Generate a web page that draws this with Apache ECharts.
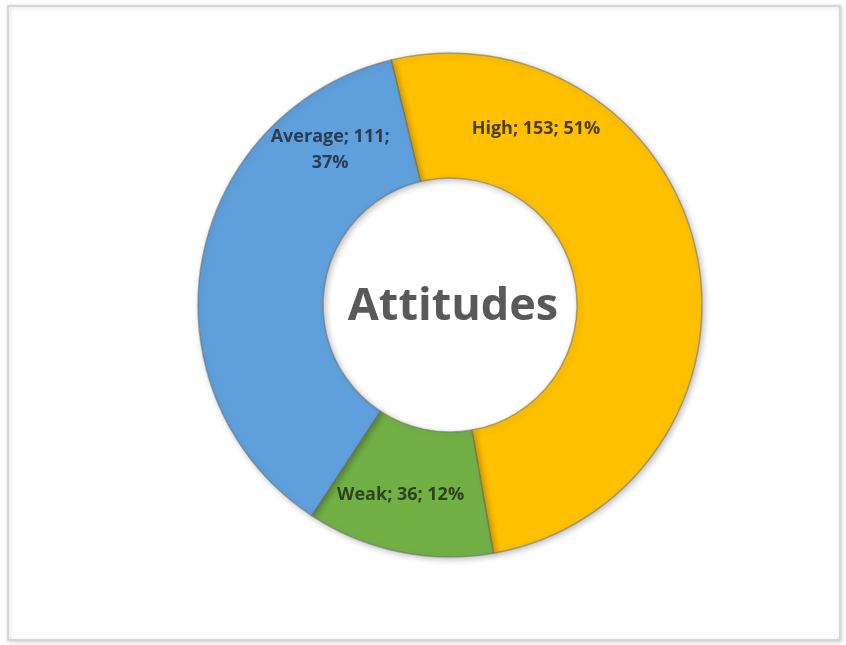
<!DOCTYPE html>
<html>
<head>
<meta charset="utf-8">
<script src="https://cdn.jsdelivr.net/npm/echarts@6/dist/echarts.min.js"></script>
<style>
html,body{margin:0;padding:0;background:#fff;}
#main{width:846px;height:645px;}
</style>
</head>
<body>
<div id="main"></div>
<script>
const categories = ['High', 'Weak', 'Average'];
const values = [153, 36, 111];
const colors = ['#FFC000', '#72B046', '#5FA0DC'];
const labelColors = ['#4a3d05', '#2c4220', '#2a3b52'];
const centerTitle = 'Attitudes';

// label anchor angles (degrees, math convention) for placement
const labelAngles = { High: 64, Weak: -104.6, Average: 127.7 };
const cx = 450, cy = 305, labelR = 196;

const chart = echarts.init(document.getElementById('main'));
chart.setOption({
  backgroundColor: '#ffffff',
  animation: false,
  graphic: [
    {
      type: 'rect',
      shape: { x: 8, y: 6, width: 832, height: 634 },
      style: { fill: '#ffffff', stroke: '#d6d6d6', lineWidth: 2,
               shadowBlur: 4, shadowColor: 'rgba(0,0,0,0.15)', shadowOffsetX: 1, shadowOffsetY: 1 },
      z: -10
    },
    {
      type: 'text',
      x: cx + 3,
      y: cy + 2,
      style: {
        text: centerTitle,
        textAlign: 'center', textVerticalAlign: 'middle',
        font: 'bold 45px "Open Sans", sans-serif',
        fill: '#595959'
      },
      z: 10
    }
  ],
  series: [{
    type: 'pie',
    center: [cx, cy],
    radius: [127, 252],
    startAngle: 103.5,
    clockwise: true,
    avoidLabelOverlap: false,
    itemStyle: {
      borderColor: 'rgba(110,110,110,0.55)',
      borderWidth: 1.5,
      shadowBlur: 6,
      shadowColor: 'rgba(0,0,0,0.25)',
      shadowOffsetX: 2,
      shadowOffsetY: 2
    },
    label: {
      show: true,
      position: 'inside',
      formatter: function (p) {
        if (p.name === 'Average') return p.name + '; ' + p.value + ';\n' + Math.round(p.percent) + '%';
        return p.name + '; ' + p.value + '; ' + Math.round(p.percent) + '%';
      },
      fontFamily: '"Open Sans", sans-serif',
      fontWeight: 'bold',
      fontSize: 18,
      lineHeight: 26,
      align: 'center'
    },
    labelLine: { show: false },
    labelLayout: function (params) {
      const name = categories[params.dataIndex];
      const a = labelAngles[name] * Math.PI / 180;
      return {
        x: cx + labelR * Math.cos(a),
        y: cy - labelR * Math.sin(a),
        align: 'center',
        verticalAlign: 'middle'
      };
    },
    data: categories.map((c, i) => ({
      name: c, value: values[i],
      itemStyle: { color: colors[i] },
      label: { color: labelColors[i] }
    }))
  }]
});
</script>
</body>
</html>
